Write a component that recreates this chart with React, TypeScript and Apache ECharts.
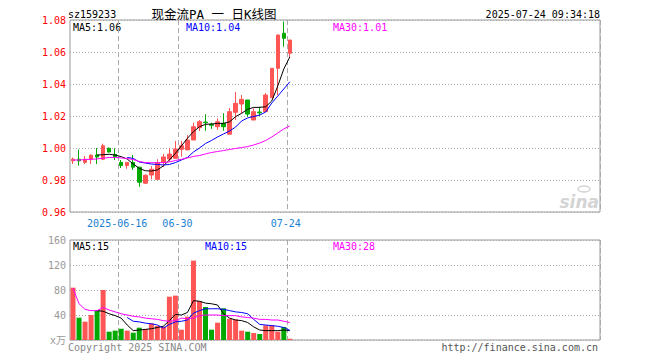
import React, { useEffect, useRef } from 'react';
import * as echarts from 'echarts';

const dates = [
  '2025-06-04','2025-06-05','2025-06-06','2025-06-09','2025-06-10','2025-06-11','2025-06-12','2025-06-13',
  '2025-06-16','2025-06-17','2025-06-18','2025-06-19','2025-06-20','2025-06-23','2025-06-24','2025-06-25',
  '2025-06-26','2025-06-27','2025-06-30','2025-07-01','2025-07-02','2025-07-03','2025-07-04','2025-07-07',
  '2025-07-08','2025-07-09','2025-07-10','2025-07-11','2025-07-14','2025-07-15','2025-07-16','2025-07-17',
  '2025-07-18','2025-07-21','2025-07-22','2025-07-23','2025-07-24',
];
const opens = [0.992,0.993,0.991,0.993,0.9956,0.993,0.9998,0.996,0.991,0.989,0.991,0.988,0.978,0.9831,0.9804,0.991,0.9931,0.9936,0.9992,0.9988,1.005,1.0127,1.0162,1.0148,1.0133,1.0154,1.0086,1.0223,1.0275,1.03,1.0175,1.0225,1.0227,1.0314,1.0498,1.0717,1.0592];
const closes = [0.993,0.992,0.993,0.9955,0.9944,1.0014,0.9975,0.9945,0.989,0.991,0.988,0.9786,0.983,0.9867,0.9908,0.9944,0.9962,0.9994,1.0014,1.005,1.0133,1.0164,1.0158,1.0142,1.0164,1.0133,1.0227,1.0279,1.0304,1.0212,1.0227,1.022,1.0331,1.0498,1.0706,1.0686,1.0675];
const lows = [0.990,0.989,0.990,0.990,0.990,0.9925,0.9972,0.9925,0.9875,0.987,0.9863,0.9758,0.9775,0.9804,0.980,0.9881,0.9914,0.9931,0.9946,0.9988,1.005,1.0106,1.0108,1.0119,1.0114,1.0108,1.0086,1.0175,1.0217,1.0196,1.0175,1.02,1.0227,1.0314,1.0331,1.0633,1.0564];
const highs = [0.994,0.999,0.995,0.996,1.000,1.0027,1.0003,0.9998,0.9925,0.9912,0.9956,0.988,0.9835,0.9887,0.993,0.9963,0.9998,1.0044,1.0044,1.0081,1.0158,1.0175,1.0211,1.0158,1.0185,1.0217,1.025,1.035,1.0331,1.03,1.0248,1.0258,1.0344,1.05,1.071,1.079,1.0675];
const ma5 = ['-','-','-','-',0.9956,0.9958,0.9961,0.9956,0.9946,0.9931,0.990,0.9873,0.9858,0.9856,0.9863,0.9888,0.9925,0.9967,1.0013,1.0061,1.0102,1.0133,1.0148,1.015,1.0154,1.0154,1.0164,1.0196,1.0217,1.0242,1.0254,1.0254,1.0258,1.0294,1.0388,1.0494,1.0569];
const ma10 = ['-','-','-','-','-','-','-','-','-',0.9941,0.9935,0.99125,0.9906,0.990,0.9897,0.9894,0.9897,0.9909,0.9925,0.9941,0.9975,1.000,1.0028,1.0047,1.0069,1.0088,1.0106,1.0131,1.0169,1.0188,1.0197,1.0206,1.0225,1.0281,1.0325,1.0369,1.0414];
const ma30 = [0.9925,0.9925,0.9928,0.9929,0.9932,0.9936,0.9941,0.9941,0.9938,0.9934,0.9928,0.9916,0.9909,0.9908,0.9908,0.9909,0.9913,0.9922,0.9929,0.9938,0.9947,0.9953,0.9963,0.9972,0.9978,0.9984,0.9991,0.9997,1.0003,1.0009,1.0019,1.0031,1.0047,1.0069,1.0094,1.0119,1.0138];
const volumes = [83.7,35.7,29.3,40,48,80,13.3,15,18,15,11.7,19.7,17.6,26.7,22.4,21.3,69.3,71,16.5,37.3,127,62.4,52.8,16.5,27.7,50.7,34,33,15,13.3,11.2,9.6,23.5,23.5,13.3,20.8,2];
const volMa5 = ['-','-','-','-',47,46,42,39,35,24,15,16,17,18,20,22,31,41,40,44,63,62,59,58,56,42,35,32,31,28,21,16,15,15,15,16,15];
const volMa10 = ['-','-','-','-','-','-','-','-','-',36,30,29,27,26,24,19,25,29,30,32,43,47,50,50,50,49,47,45,44,42,33,25,24,23,22,20,15.4];
const volMa30 = [83,58,49,47,47,52,48,45,42,40,38,37,35,34,33,31,30,31,35,34,35,39,40,40,40,39,39,39,37,36,35,33,33,32,32,30,28];

const labelDates = ['2025-06-16', '2025-06-30', '2025-07-24'];
const labelTexts = ['2025-06-16', '06-30', '07-24'];
const priceTicks = { min: 0.96, max: 1.08, interval: 0.02 };
const volTicks = { min: 0, max: 160, interval: 40 };

const stockCode = 'sz159233';
const chartTitle = '现金流PA 一 日K线图';
const stamp = '2025-07-24 09:34:18';

const SLOTS = 88;
const RED = '#ff5555';
const GREEN = '#00a800';
const MONO = '"DejaVu Sans Mono", monospace';

export default function App() {
  const ref = useRef<HTMLDivElement>(null);
  useEffect(() => {
    document.body.style.margin = '0';
    const chart = echarts.init(ref.current!, null, { renderer: 'svg' });
    const categories = [...dates, ...Array.from({ length: SLOTS - dates.length }, (_, k) => `f${k}`)];
    const isLabel = (idx: number) => labelDates.indexOf(categories[idx]) >= 0;
    const last = (a: any[]) => a[a.length - 1];

    const xAxisBase = (grid: number, showLabel: boolean) => ({
      type: 'category',
      gridIndex: grid,
      data: categories,
      boundaryGap: true,
      axisLine: { show: false },
      axisTick: { show: false },
      axisLabel: {
        show: showLabel,
        interval: (idx: number) => isLabel(idx),
        formatter: (v: string) => labelTexts[labelDates.indexOf(v)] ?? '',
        color: '#1a7fd4',
        fontFamily: MONO,
        fontSize: 10,
        margin: 6,
        padding: [0, 8, 0, 0],
      },
      splitLine: {
        show: true,
        interval: (idx: number) => isLabel(idx),
        lineStyle: { color: '#aaa', type: [5, 3], width: 1 },
      },
    });

    const lineSeries = (data: any[], color: string, x: number, y: number) => ({
      type: 'line',
      data,
      xAxisIndex: x,
      yAxisIndex: y,
      symbol: 'none',
      showSymbol: false,
      silent: true,
      lineStyle: { color, width: 1 },
      itemStyle: { color },
    });

    const txt = (text: string, x: number, y: number, fill: string, align = 'left', font = `10px ${MONO}`) => ({
      type: 'text',
      x,
      y,
      silent: true,
      style: { text, fill, font, align, verticalAlign: 'middle' },
    });

    chart.setOption({
      animation: false,
      backgroundColor: '#fff',
      grid: [
        { left: 70, top: 20, width: 530, height: 192, show: true, borderColor: '#999', borderWidth: 1, backgroundColor: 'transparent' },
        { left: 70, top: 240, width: 530, height: 100, show: true, borderColor: '#999', borderWidth: 1, backgroundColor: 'transparent' },
      ],
      xAxis: [xAxisBase(0, true), xAxisBase(1, false)],
      yAxis: [
        {
          type: 'value',
          gridIndex: 0,
          min: priceTicks.min,
          max: priceTicks.max,
          interval: priceTicks.interval,
          axisLine: { show: false },
          axisTick: { show: false },
          axisLabel: { color: '#f00', fontFamily: MONO, fontSize: 10, margin: 4, formatter: (v: number) => v.toFixed(2) },
          splitLine: { show: true, lineStyle: { color: '#aaa', type: [1, 2], width: 1 } },
        },
        {
          type: 'value',
          gridIndex: 1,
          min: volTicks.min,
          max: volTicks.max,
          interval: volTicks.interval,
          axisLine: { show: false },
          axisTick: { show: false },
          axisLabel: {
            color: '#999',
            fontFamily: `${MONO}, "Noto Sans CJK SC"`,
            fontSize: 10,
            margin: 4,
            formatter: (v: number) => (v === 0 ? 'x万' : String(v)),
          },
          splitLine: { show: true, lineStyle: { color: '#aaa', type: [1, 2], width: 1 } },
        },
      ],
      series: [
        {
          type: 'candlestick',
          xAxisIndex: 0,
          yAxisIndex: 0,
          barWidth: 4,
          silent: true,
          data: dates.map((_, i) => [opens[i], closes[i], lows[i], highs[i]]),
          itemStyle: { color: RED, color0: GREEN, borderColor: RED, borderColor0: GREEN, borderWidth: 1 },
        },
        lineSeries(ma5, '#000', 0, 0),
        lineSeries(ma10, '#0000ff', 0, 0),
        lineSeries(ma30, '#ff00ff', 0, 0),
        {
          type: 'bar',
          xAxisIndex: 1,
          yAxisIndex: 1,
          barWidth: 5,
          silent: true,
          data: volumes.map((v, i) => ({ value: v, itemStyle: { color: closes[i] >= opens[i] ? RED : GREEN } })),
        },
        lineSeries(volMa5, '#000', 1, 1),
        lineSeries(volMa10, '#0000ff', 1, 1),
        lineSeries(volMa30, '#ff00ff', 1, 1),
      ],
      graphic: [
        txt(stockCode, 68, 14, '#000'),
        txt(chartTitle, 214, 14, '#000', 'center', `12.5px ${MONO}, "Noto Sans CJK SC"`),
        txt(stamp, 600, 14, '#000', 'right'),
        txt(`MA5:${last(ma5).toFixed(2)}`, 73, 27, '#000'),
        txt(`MA10:${last(ma10).toFixed(2)}`, 186, 27, '#0000ff'),
        txt(`MA30:${last(ma30).toFixed(2)}`, 333, 27, '#ff00ff'),
        txt(`MA5:${Math.round(last(volMa5))}`, 73, 246, '#000'),
        txt(`MA10:${Math.round(last(volMa10))}`, 205, 246, '#0000ff'),
        txt(`MA30:${Math.round(last(volMa30))}`, 333, 246, '#ff00ff'),
        txt('Copyright 2025 SINA.COM', 68, 347, '#888'),
        txt('http://finance.sina.com.cn', 598, 347, '#555', 'right'),
        txt('sina', 599, 202, '#d4d4d4', 'right', 'italic bold 17px "DejaVu Sans", sans-serif'),
        {
          type: 'ellipse',
          silent: true,
          shape: { cx: 584, cy: 189, rx: 6, ry: 3 },
          style: { fill: 'none', stroke: '#d4d4d4', lineWidth: 1.5 },
        },
      ],
    });
    return () => chart.dispose();
  }, []);
  return <div ref={ref} style={{ width: 660, height: 360 }} />;
}
